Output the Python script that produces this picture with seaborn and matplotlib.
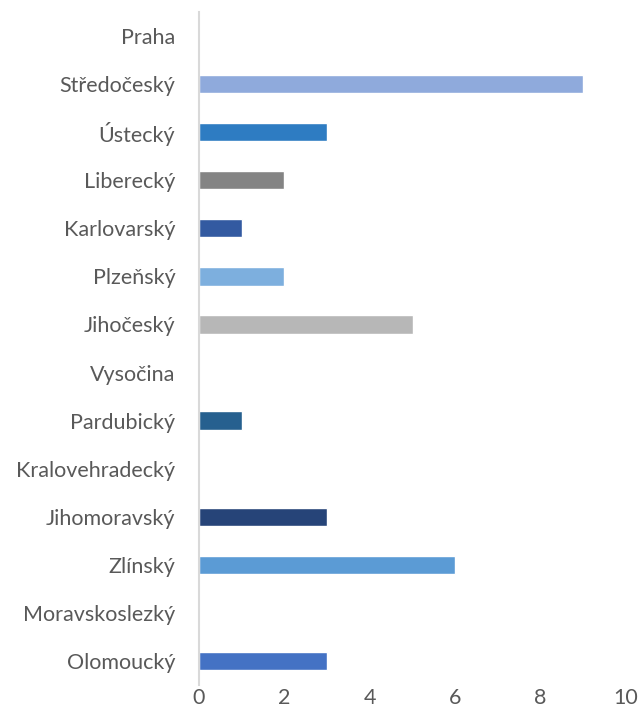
import pandas as pd
import matplotlib.pyplot as plt
import seaborn as sns

kraje = ['Praha', 'Středočeský', 'Ústecký', 'Liberecký', 'Karlovarský', 'Plzeňský',
         'Jihočeský', 'Vysočina', 'Pardubický', 'Kralovehradecký', 'Jihomoravský',
         'Zlínský', 'Moravskoslezký', 'Olomoucký']
pocet = [0, 9, 3, 2, 1, 2, 5, 0, 1, 0, 3, 6, 0, 3]
barvy = ['#4472C4', '#8FAADC', '#2E7CC2', '#848484', '#335AA1', '#7DAFDE',
         '#B7B7B7', '#4472C4', '#26608F', '#4472C4', '#264478', '#5B9BD5',
         '#4472C4', '#4472C4']

df = pd.DataFrame({'kraj': kraje, 'pocet': pocet})

sns.set_style('white')
plt.rcParams['font.family'] = ['Lato', 'DejaVu Sans']

fig = plt.figure(figsize=(6.39, 7.25), dpi=100)
ax = fig.add_axes([0.3114, 0.0552, 0.6683, 0.9282])

sns.barplot(data=df, x='pocet', y='kraj', hue='kraj', palette=barvy,
            orient='h', width=0.38, saturation=1, legend=False, ax=ax)

ax.set_xlim(0, 10)
ax.set_ylim(13.5, -0.5)
ax.set_xticks([0, 2, 4, 6, 8, 10])
ax.set_xlabel('')
ax.set_ylabel('')

for s in ['top', 'right', 'bottom']:
    ax.spines[s].set_visible(False)
ax.spines['left'].set_color('#D9D9D9')
ax.spines['left'].set_linewidth(1.5)

ax.tick_params(axis='y', length=0, pad=17, labelsize=15.5, labelcolor='#595959')
ax.tick_params(axis='x', length=0, pad=2, labelsize=15.5, labelcolor='#595959')

fig.savefig('out.png', dpi=100)
